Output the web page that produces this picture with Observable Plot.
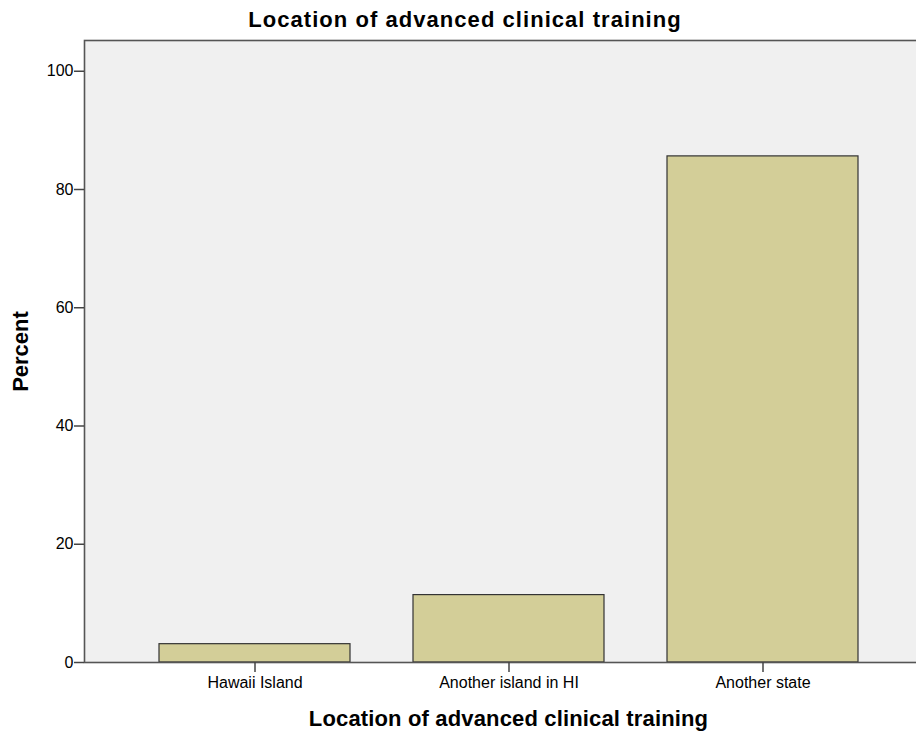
<!DOCTYPE html>
<html>
<head>
<meta charset="utf-8">
<script src="https://cdn.jsdelivr.net/npm/d3@7"></script>
<script src="https://cdn.jsdelivr.net/npm/@observablehq/plot@0.6"></script>
<style>
  html, body { margin: 0; padding: 0; background: #fff; }
  svg { display: block; }
</style>
</head>
<body>
<div id="chart"></div>
<script>
const categories = ["Hawaii Island", "Another island in HI", "Another state"];
const percents = [3.1, 11.4, 85.6];
const yTicks = [0, 20, 40, 60, 80, 100];
const titleText = "Location of advanced clinical training";
const xLabelText = "Location of advanced clinical training";
const yLabelText = "Percent";

const data = categories.map((c, i) => ({category: c, percent: percents[i]}));

const font = "'Liberation Sans', Arial, sans-serif";

const chart = Plot.plot({
  width: 916,
  height: 736,
  marginLeft: 84,
  marginTop: 40,
  marginBottom: 74,
  marginRight: -16,
  style: {fontFamily: font, background: "#ffffff", color: "#000"},
  x: {domain: categories, paddingInner: 0.25, paddingOuter: 0.29, label: null},
  y: {domain: [0, 105.2], label: null},
  marks: [
    Plot.frame({fill: "#f0f0f0", stroke: null}),
    Plot.barY(data, {x: "category", y: "percent", fill: "#d3ce98", stroke: "#333333", strokeWidth: 1.2}),
    Plot.frame({stroke: "#555555", strokeWidth: 1.6}),
    Plot.axisY({ticks: yTicks, tickSize: 10, tickPadding: 1, fontSize: 16, label: null, stroke: "#444", strokeWidth: 1.5}),
    Plot.axisX({tickSize: 10, tickPadding: 4, fontSize: 16, label: null, stroke: "#444", strokeWidth: 1.5}),
    Plot.text([titleText], {frameAnchor: "top", dx: -43.5, dy: -20.5, lineAnchor: "middle", textAnchor: "middle", fontSize: 22, fontWeight: "bold", fill: "#000", fontFamily: font}),
    Plot.text([xLabelText], {frameAnchor: "bottom", dy: 56.3, lineAnchor: "middle", textAnchor: "middle", fontSize: 22, fontWeight: "bold", fill: "#000", fontFamily: font}),
    Plot.text([yLabelText], {frameAnchor: "left", dx: -64, rotate: -90, lineAnchor: "middle", textAnchor: "middle", fontSize: 22, fontWeight: "bold", fill: "#000", fontFamily: font})
  ]
});
// widen the title's letter spacing to match the reference's wider bold face
d3.select(chart).selectAll("text").filter(function () {
  return this.textContent === titleText && this.getAttribute("transform") && !this.closest("[aria-label='x-axis tick label']");
});
const texts = Array.from(chart.querySelectorAll("text")).filter(t => t.textContent === titleText);
if (texts.length) texts[0].style.letterSpacing = "1.05px";
if (texts.length > 1) texts[1].style.letterSpacing = "0.15px";
document.getElementById("chart").appendChild(chart);
</script>
</body>
</html>
